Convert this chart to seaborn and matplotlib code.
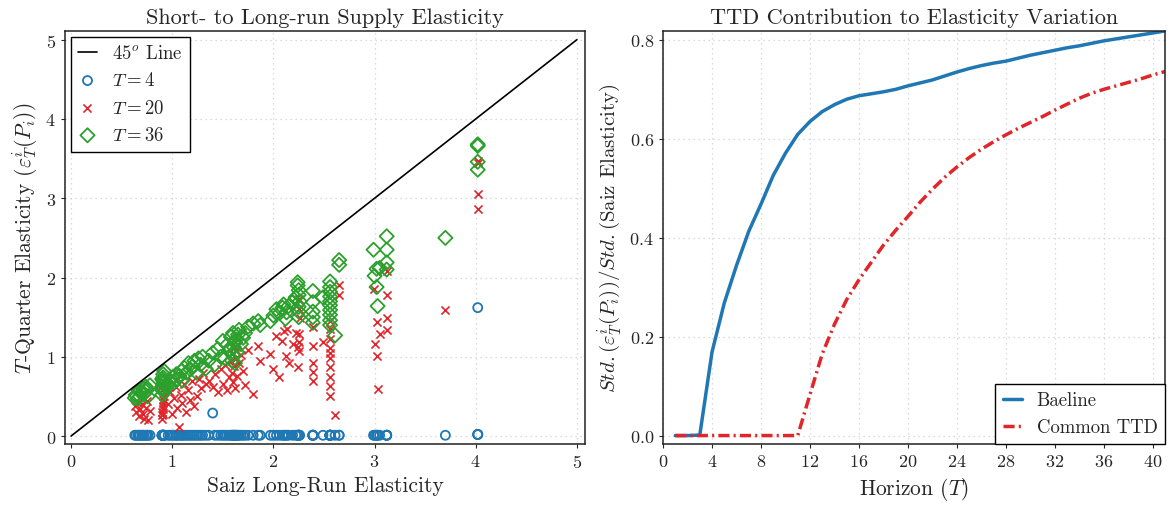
import numpy as np
import pandas as pd
import matplotlib
matplotlib.use("Agg")
import matplotlib.pyplot as plt
import seaborn as sns

# Saiz long-run elasticity for each MSA, and T-quarter elasticities
saiz = [0.63, 0.64, 0.66, 0.67, 0.68, 0.70, 0.71, 0.72, 0.74, 0.75, 0.76, 0.78,
        0.90, 0.90, 0.90, 0.91, 0.91, 0.91, 0.91, 0.92, 0.92, 0.92, 0.90, 0.91,
        0.96, 0.98, 1.00, 1.02, 1.04, 1.05, 1.07, 1.09, 1.10, 1.12, 1.14, 1.16,
        1.18, 1.20, 1.22, 1.24, 1.26, 1.28, 1.30, 1.33,
        1.36, 1.40, 1.42, 1.45, 1.48, 1.50, 1.52, 1.54, 1.56, 1.58, 1.59, 1.60,
        1.60, 1.61, 1.62, 1.62, 1.63, 1.64, 1.65, 1.66, 1.68, 1.70, 1.72, 1.75, 1.80,
        1.85, 1.87, 1.97, 2.00, 2.03, 2.06, 2.09, 2.10, 2.12, 2.13, 2.15, 2.19,
        2.22, 2.24, 2.24, 2.25, 2.25, 2.26, 2.25, 2.25, 2.25,
        2.39, 2.39, 2.39, 2.39, 2.39, 2.49,
        2.56, 2.56, 2.56, 2.56, 2.56, 2.56, 2.56, 2.56, 2.56, 2.56, 2.61, 2.65, 2.65,
        2.99, 3.02, 3.05, 3.00, 3.02, 3.03, 3.12, 3.12, 3.12, 3.12,
        3.70, 4.02, 4.02, 4.02, 4.02]
elas_t4 = [0.01] * 45 + [0.29] + [0.01] * 74 + [1.62, 0.02, 0.02, 0.02]
elas_t20 = [0.38, 0.30, 0.42, 0.25, 0.34, 0.40, 0.28, 0.22, 0.35, 0.44, 0.20, 0.32,
            0.22, 0.26, 0.30, 0.34, 0.38, 0.42, 0.46, 0.50, 0.55, 0.60, 0.64, 0.28,
            0.40, 0.55, 0.28, 0.48, 0.62, 0.35, 0.12, 0.52, 0.42, 0.66, 0.30, 0.58,
            0.45, 0.70, 0.38, 0.50, 0.72, 0.60, 0.80, 0.66,
            0.70, 0.62, 0.78, 0.55, 0.85, 0.66, 0.90, 0.58, 0.74, 0.95, 0.80, 1.05,
            0.68, 0.88, 1.12, 0.60, 0.98, 0.76, 1.15, 0.92, 1.02, 0.82, 0.65, 1.08, 0.53,
            1.14, 0.95, 1.04, 0.85, 1.26, 0.75, 1.20, 1.33, 1.01, 1.35, 0.92, 1.16,
            1.30, 1.12, 0.87, 1.73, 1.60, 1.49, 1.29, 1.19, 1.07,
            1.38, 1.14, 0.92, 0.81, 0.69, 1.19,
            1.35, 1.22, 1.11, 0.98, 0.87, 0.63, 0.51, 1.45, 1.05, 0.75, 0.27, 1.91, 1.78,
            1.86, 1.44, 1.29, 1.16, 1.01, 0.59, 2.08, 1.78, 1.49, 1.34,
            1.59, 3.47, 3.05, 2.87, 3.45]
elas_t36 = [0.48, 0.52, 0.47, 0.57, 0.50, 0.55, 0.60, 0.53, 0.62, 0.58, 0.50, 0.64,
            0.52, 0.58, 0.62, 0.66, 0.70, 0.74, 0.78, 0.82, 0.56, 0.68, 0.72, 0.60,
            0.64, 0.70, 0.74, 0.68, 0.78, 0.72, 0.76, 0.82, 0.70, 0.86, 0.80, 0.92,
            0.84, 0.88, 0.95, 0.80, 0.98, 0.90, 1.00, 0.85,
            0.95, 1.05, 0.90, 1.10, 1.00, 1.20, 0.98, 1.15, 1.08, 1.25, 0.95, 1.30,
            1.02, 1.12, 1.18, 0.92, 1.22, 1.06, 1.28, 1.34, 1.16, 1.24, 1.30, 1.38, 1.42,
            1.45, 1.40, 1.45, 1.52, 1.60, 1.55, 1.62, 1.66, 1.48, 1.56, 1.64, 1.69,
            1.75, 1.94, 1.90, 1.84, 1.78, 1.70, 1.63, 1.57, 1.50,
            1.83, 1.69, 1.57, 1.50, 1.43, 1.75,
            1.95, 1.88, 1.82, 1.76, 1.70, 1.65, 1.59, 1.53, 1.46, 1.40, 1.27, 2.22, 2.16,
            2.35, 2.11, 2.12, 2.02, 1.88, 1.64, 2.52, 2.35, 2.19, 2.10,
            2.50, 3.68, 3.36, 3.46, 3.66]
diag = [0, 5]

# Std ratio by horizon
horizon = list(range(1, 42))
baseline = [0.000, 0.000, 0.001, 0.169, 0.268, 0.344, 0.413, 0.468, 0.526, 0.571,
            0.609, 0.635, 0.655, 0.669, 0.680, 0.687, 0.691, 0.695, 0.700, 0.707,
            0.713, 0.719, 0.727, 0.735, 0.742, 0.748, 0.753, 0.757, 0.763, 0.769,
            0.774, 0.779, 0.784, 0.788, 0.793, 0.798, 0.802, 0.806, 0.810, 0.814,
            0.818]
common_ttd = [0.0] * 11 + [0.083, 0.165, 0.225, 0.275, 0.315, 0.350, 0.385, 0.415,
                           0.443, 0.472, 0.498, 0.522, 0.543, 0.562, 0.579, 0.594,
                           0.608, 0.621, 0.633, 0.645, 0.658, 0.670, 0.682, 0.692,
                           0.700, 0.707, 0.714, 0.721, 0.729, 0.736]

sns.set_style("ticks")
plt.rcParams['font.family'] = 'serif'
plt.rcParams['font.serif'] = ['cmr10']
plt.rcParams['mathtext.fontset'] = 'cm'
plt.rcParams['axes.formatter.use_mathtext'] = True
plt.rcParams['axes.unicode_minus'] = False

blue, red, green = '#1f77b4', '#e0262a', '#2ca02c'

fig = plt.figure(figsize=(11.69, 5.06), dpi=100)
ax1 = fig.add_axes([0.0556, 0.1206, 0.4448, 0.8162])
ax2 = fig.add_axes([0.5672, 0.1206, 0.4294, 0.8162])

# Left panel
sns.lineplot(x=diag, y=diag, ax=ax1, color='black', lw=1.2, label=r'45$^o$ Line')
sns.scatterplot(x=saiz, y=elas_t4, ax=ax1, marker='o', s=42, facecolor='none',
                edgecolor=blue, linewidth=1.3, label=r'$T=4$')
sns.scatterplot(x=saiz, y=elas_t20, ax=ax1, marker='x', s=34, color=red,
                linewidth=1.2, label=r'$T=20$')
sns.scatterplot(x=saiz, y=elas_t36, ax=ax1, marker='D', s=52, facecolor='none',
                edgecolor=green, linewidth=1.3, label=r'$T=36$')
ax1.set_xlim(-0.06, 5.08)
ax1.set_ylim(-0.1, 5.11)
ax1.set_xticks([0, 1, 2, 3, 4, 5])
ax1.set_yticks([0, 1, 2, 3, 4, 5])
ax1.set_title('Short- to Long-run Supply Elasticity', fontsize=16)
ax1.set_xlabel('Saiz Long-Run Elasticity', fontsize=15.5)
ax1.set_ylabel(r'$T$-Quarter Elasticity ($\varepsilon^i_T(P_i)$)', fontsize=15.5)
leg1 = ax1.legend(loc='upper left', fontsize=13.5, fancybox=False, framealpha=1,
                  edgecolor='black', handlelength=1.0, borderaxespad=0.3)

# Right panel
sns.lineplot(x=horizon, y=baseline, ax=ax2, color=blue, lw=2.5, label='Baeline')
sns.lineplot(x=horizon, y=common_ttd, ax=ax2, color=red, lw=2.5,
             linestyle=(0, (3.2, 1.2, 0.6, 1.2)), label='Common TTD')
ax2.set_xlim(0, 41)
ax2.set_ylim(-0.017, 0.818)
ax2.set_xticks(range(0, 41, 4))
ax2.set_yticks([0, 0.2, 0.4, 0.6, 0.8])
ax2.set_title('TTD Contribution to Elasticity Variation', fontsize=16)
ax2.set_xlabel(r'Horizon ($T$)', fontsize=15.5)
ax2.set_ylabel(r'$Std.(\varepsilon^i_T(P_i))/Std.$(Saiz Elasticity)', fontsize=15)
ax2.legend(loc='lower right', fontsize=13.5, fancybox=False, framealpha=1,
           edgecolor='black', handlelength=1.0, borderaxespad=0.0)

for ax in (ax1, ax2):
    ax.grid(True, ls=(0, (1, 3)), color='#d0d0d0', lw=0.9)
    ax.tick_params(labelsize=13, direction='out', length=3)
    for sp in ax.spines.values():
        sp.set_color('#222222')
        sp.set_linewidth(1.1)

fig.savefig('out.png', dpi=100)
